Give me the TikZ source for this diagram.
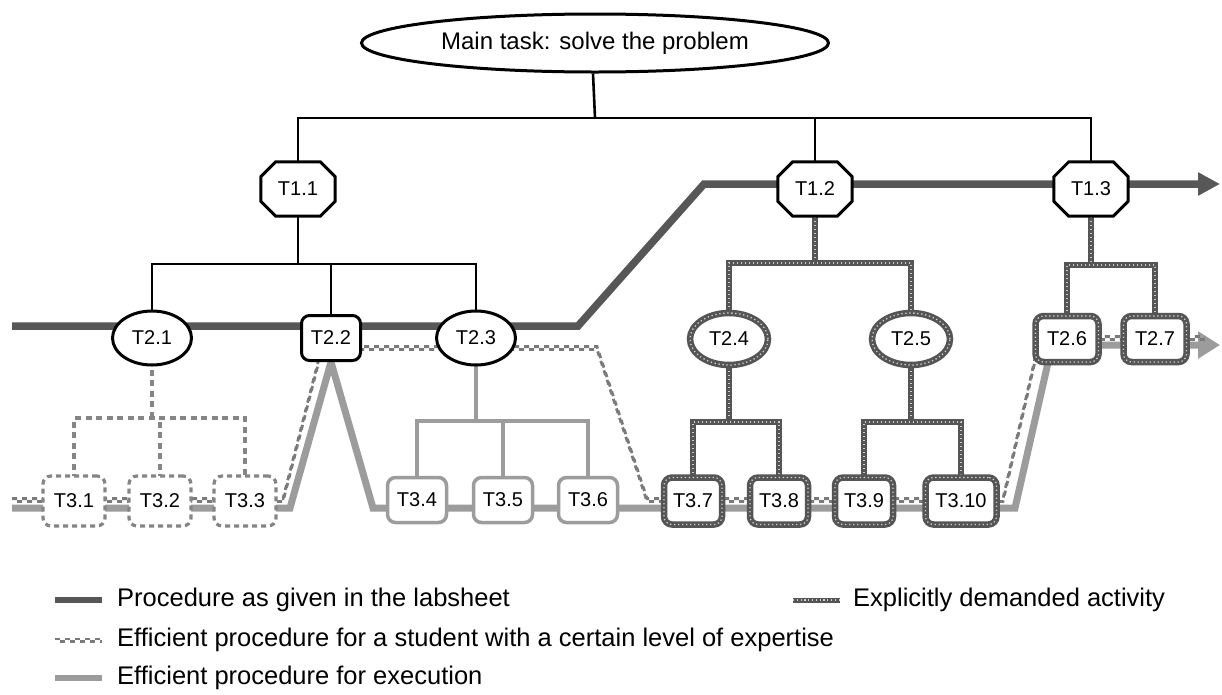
\documentclass[tikz,border=0pt]{standalone}
\usepackage{fontspec}
\setmainfont{Liberation Sans}
\usetikzlibrary{shapes.geometric,arrows.meta}
\pgfdeclarelayer{background}
\pgfdeclarelayer{mid}
\pgfsetlayers{background,mid,main}
\definecolor{procg}{HTML}{575757}
\definecolor{lightg}{HTML}{9C9C9C}
\definecolor{dashg}{HTML}{858585}
\definecolor{chkg}{HTML}{7A7A7A}
\definecolor{explg}{HTML}{555555}
\definecolor{dotc}{HTML}{CCCCCC}
\tikzset{
  every node/.style={font=\fontsize{20}{23}\selectfont, inner sep=0pt, text=black},
  legtxt/.style={anchor=west, font=\fontsize{25.5}{29}\selectfont},
  ell/.style={ellipse, fill=white, minimum width=79pt, minimum height=54pt},
  rbox/.style={rectangle, rounded corners=8pt, fill=white},
  blkb/.style={draw=black, line width=3pt},
  dshb/.style={draw=dashg, line width=3.2pt, dash pattern=on 5pt off 4pt},
  lgtb/.style={draw=lightg, line width=3.5pt},
  explb/.style={draw=explg, line width=6.5pt, postaction={draw=dotc, fill=none, line width=1.3pt, dash pattern=on 1.3pt off 2.7pt}},
  octbox/.style={rectangle, minimum width=74pt, minimum height=54pt},
  octa/.style={draw=black, fill=white, line width=3pt},
  tree/.style={draw=black, line width=2pt},
  dshl/.style={draw=dashg, line width=4pt, dash pattern=on 6pt off 4.5pt},
  lgtl/.style={draw=lightg, line width=3.5pt},
  proc/.style={draw=procg, line width=7.5pt},
  exe/.style={draw=lightg, line width=7pt},
}
\newcommand\octo[1]{%
  \begin{pgfonlayer}{mid}
  \filldraw[octa] ([xshift=15pt]#1.north west) -- ([xshift=-15pt]#1.north east)
    -- ([yshift=-15pt]#1.north east) -- ([yshift=15pt]#1.south east)
    -- ([xshift=-15pt]#1.south east) -- ([xshift=15pt]#1.south west)
    -- ([yshift=15pt]#1.south west) -- ([yshift=-15pt]#1.north west) -- cycle;
  \end{pgfonlayer}}
\newcommand\chkpath[2][2.8pt]{%
  \draw[draw=chkg, line width=#1, dash pattern=on 5pt off 5pt, transform canvas={yshift=1.4pt}] #2;
  \draw[draw=chkg, line width=#1, dash pattern=on 5pt off 5pt, dash phase=5pt, transform canvas={yshift=-1.4pt}] #2;}
\begin{document}
\begin{tikzpicture}[x=1pt,y=-1pt]
\begin{pgfonlayer}{background}
\fill[white] (0,0) rectangle (1222,694);
\end{pgfonlayer}
\useasboundingbox (0,0) rectangle (1222,694);

% main task
\node[ellipse, blkb, fill=white, minimum width=467pt, minimum height=58pt, font=\fontsize{24}{28}\selectfont] (main) at (595,43) {Main task: solve the problem};

% level 1
\node[octbox] (T11) at (298,189) {T1.1};
\node[octbox] (T12) at (815,189) {T1.2};
\node[octbox] (T13) at (1091,189) {T1.3};
\octo{T11}\octo{T12}\octo{T13}

% level 2
\node[ell, blkb] (T21) at (152,338) {T2.1};
\node[rbox, blkb, minimum width=59pt, minimum height=45pt] (T22) at (331,338) {T2.2};
\node[ell, blkb] (T23) at (476,338) {T2.3};
\node[ell, explb, minimum width=78pt, minimum height=52pt] (T24) at (729,339) {T2.4};
\node[ell, explb, minimum width=78pt, minimum height=52pt] (T25) at (911,339) {T2.5};
\node[rbox, explb, minimum width=63pt, minimum height=46pt] (T26) at (1067,339) {T2.6};
\node[rbox, explb, minimum width=63pt, minimum height=46pt] (T27) at (1155,339) {T2.7};

% level 3
\node[rbox, dshb, minimum width=62pt, minimum height=50pt] (T31) at (74,501) {T3.1};
\node[rbox, dshb, minimum width=62pt, minimum height=50pt] (T32) at (160,501) {T3.2};
\node[rbox, dshb, minimum width=62pt, minimum height=50pt] (T33) at (245,501) {T3.3};
\node[rbox, lgtb, minimum width=59pt, minimum height=45pt] (T34) at (417,500) {T3.4};
\node[rbox, lgtb, minimum width=59pt, minimum height=45pt] (T35) at (503,500) {T3.5};
\node[rbox, lgtb, minimum width=59pt, minimum height=45pt] (T36) at (588,500) {T3.6};
\node[rbox, explb, minimum width=58pt, minimum height=47pt] (T37) at (693,501) {T3.7};
\node[rbox, explb, minimum width=58pt, minimum height=47pt] (T38) at (779,501) {T3.8};
\node[rbox, explb, minimum width=58pt, minimum height=47pt] (T39) at (864,501) {T3.9};
\node[rbox, explb, minimum width=71pt, minimum height=47pt] (T310) at (961,501) {T3.10};

% junctions
\coordinate (j0) at (593,118);
\coordinate (j1) at (298,264);
\coordinate (j2) at (152,418);
\coordinate (j3) at (476,421);
\coordinate (j4) at (815,263);
\coordinate (j5) at (729,422);
\coordinate (j6) at (911,422);
\coordinate (j7) at (1091,265);

\begin{pgfonlayer}{background}
% black tree
\draw[tree, line width=2.6pt] (main.center |- j0) -- (j0 |- main.south);
\draw[tree] (T11.center) |- (j0) -| (T13.center);
\draw[tree] (T12.center) -- (T12.center |- j0);
\draw[tree, line width=2.6pt] (T11.center) -- (T11.center |- j1);
\draw[tree] (T21.center) |- (j1) -| (T23.center);
\draw[tree] (T22.center) -- (T22.center |- j1);
% dashed tree
\draw[dshl] (T21.center) -- (T21.center |- j2);
\draw[dshl] (T31.center) |- (j2) -| (T33.center);
\draw[dshl] (T32.center) -- (T32.center |- j2);
% light tree
\draw[lgtl] (T23.center) -- (T23.center |- j3);
\draw[lgtl] (T34.center) |- (j3) -| (T36.center);
\draw[lgtl] (T35.center) -- (T35.center |- j3);
% explicit trees
\draw[explb] (T12.center) -- (T12.center |- j4);
\draw[explb] (T24.center) |- (j4) -| (T25.center);
\draw[explb] (T24.center) -- (T24.center |- j5);
\draw[explb] (T37.center) |- (j5) -| (T38.center);
\draw[explb] (T25.center) -- (T25.center |- j6);
\draw[explb] (T39.center) |- (j6) -| (T310.center);
\draw[explb] (T13.center) -- (T13.center |- j7);
\draw[explb] (T26.center) |- (j7) -| (T27.center);

% procedure lines
\draw[exe, -{Triangle[length=22pt,width=26pt]}] (12,508) -- (290,508) -- (T22.south) -- (373,508) -- (1015,508) -- (1052,345) -- (1220,345);
\chkpath{(12,500) -- (283,500) -- (322,348) -- (597,348) -- (647,500) -- (1003,500) -- (1040,338) -- (1205,338)}
\draw[proc, -{Triangle[length=22pt,width=22pt]}] (12,326) -- (578,326) -- (704,184) -- (1220,184);
\end{pgfonlayer}

% legend
\coordinate (l1a) at (55,600); \coordinate (l1b) at (102,600);
\coordinate (l2a) at (55,640); \coordinate (l2b) at (102,640);
\coordinate (l3a) at (55,678); \coordinate (l3b) at (102,678);
\coordinate (l4a) at (793,600); \coordinate (l4b) at (840,600);
\draw[draw=procg, line width=6pt] (l1a) -- (l1b);
\chkpath[2.2pt]{(l2a) -- (l2b)}
\draw[draw=lightg, line width=6pt] (l3a) -- (l3b);
\draw[draw=explg, line width=5pt, postaction={draw=dotc, line width=1.2pt, dash pattern=on 1.2pt off 2.6pt}] (l4a) -- (l4b);
\node[legtxt] (leg1) at (117,600) {Procedure as given in the labsheet};
\node[legtxt] (leg2) at (117,640) {Efficient procedure for a student with a certain level of expertise};
\node[legtxt] (leg3) at (117,678) {Efficient procedure for execution};
\node[legtxt] (leg4) at (853,600) {Explicitly demanded activity};
\end{tikzpicture}
\end{document}
